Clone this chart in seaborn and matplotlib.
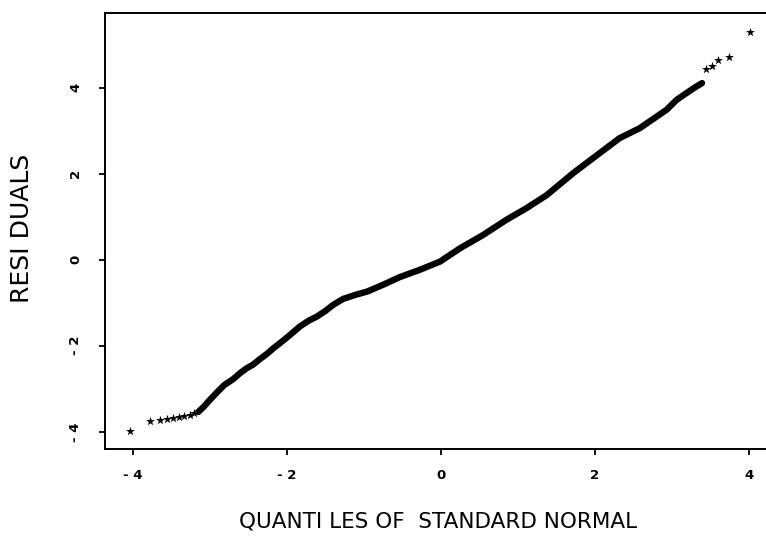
import seaborn as sns
import pandas as pd
import matplotlib
matplotlib.use("Agg")
import matplotlib.pyplot as plt

# dense middle of the QQ plot
body_x = [-3.15, -3.08, -3.00, -2.90, -2.81, -2.70, -2.61, -2.52, -2.44, -2.35,
          -2.26, -2.17, -2.09, -1.96, -1.83, -1.72, -1.61, -1.50, -1.40, -1.27,
          -1.10, -0.96, -0.75, -0.53, -0.27, -0.01, 0.25, 0.55, 0.85, 1.11,
          1.37, 1.72, 2.06, 2.32, 2.58, 2.80, 2.93, 3.06, 3.19, 3.28, 3.39]
body_y = [-3.54, -3.42, -3.26, -3.07, -2.91, -2.78, -2.64, -2.52, -2.44, -2.31,
          -2.19, -2.05, -1.94, -1.75, -1.55, -1.42, -1.32, -1.19, -1.05, -0.91,
          -0.81, -0.74, -0.58, -0.40, -0.23, -0.04, 0.27, 0.58, 0.93, 1.20,
          1.50, 2.02, 2.48, 2.83, 3.06, 3.33, 3.49, 3.72, 3.88, 3.99, 4.11]

# separate points in the tails
tail_x = [-4.03, -3.78, -3.65, -3.56, -3.48, -3.40, -3.33, -3.26, -3.20,
          3.44, 3.52, 3.60, 3.74, 4.01]
tail_y = [-3.97, -3.74, -3.72, -3.70, -3.68, -3.66, -3.63, -3.60, -3.57,
          4.43, 4.51, 4.65, 4.71, 5.29]

tick_vals = [-4, -2, 0, 2, 4]
tick_labels = ["- 4", "- 2", "0", "2", "4"]

body = pd.DataFrame({"q": body_x, "r": body_y})
tails = pd.DataFrame({"q": tail_x, "r": tail_y})

sns.set_style("ticks")
plt.rcParams["font.family"] = ["DejaVu Sans"]
plt.rcParams["text.color"] = "black"
plt.rcParams["xtick.color"] = "black"
plt.rcParams["ytick.color"] = "black"

fig = plt.figure(figsize=(7.66, 5.48), dpi=100)
ax = fig.add_axes([105 / 766, 1 - 449 / 548, 661 / 766, 436 / 548])

sns.lineplot(data=body, x="q", y="r", sort=False, color="black", linewidth=4.6,
             solid_capstyle="round", ax=ax)
sns.scatterplot(data=tails, x="q", y="r", marker="*", s=45, color="black",
                linewidth=0, ax=ax)

ax.set_xlim(-4.36, 4.22)
ax.set_ylim(-4.40, 5.74)

ax.set_xticks(tick_vals)
ax.set_xticklabels(tick_labels, fontsize=9.5, fontweight="bold")
ax.set_yticks(tick_vals)
ax.set_yticklabels(tick_labels, fontsize=9.5, fontweight="bold", rotation=90, va="center")
ax.tick_params(axis="both", length=4.5, width=1.3, color="black", direction="out")
ax.tick_params(axis="x", pad=10)
ax.tick_params(axis="y", pad=12)

for side in ["left", "bottom", "top"]:
    ax.spines[side].set_linewidth(1.4)
    ax.spines[side].set_color("black")
ax.spines["right"].set_visible(False)

ax.set_xlabel("")
ax.set_ylabel("")
fig.text(438 / 766, 1 - 521 / 548, "QUANTI LES OF  STANDARD NORMAL",
         fontsize=15.5, ha="center", va="center")
fig.text(22 / 766, 1 - 228 / 548, "RESI DUALS", fontsize=18, rotation=90,
         ha="center", va="center")

fig.savefig("out.png", dpi=100)
